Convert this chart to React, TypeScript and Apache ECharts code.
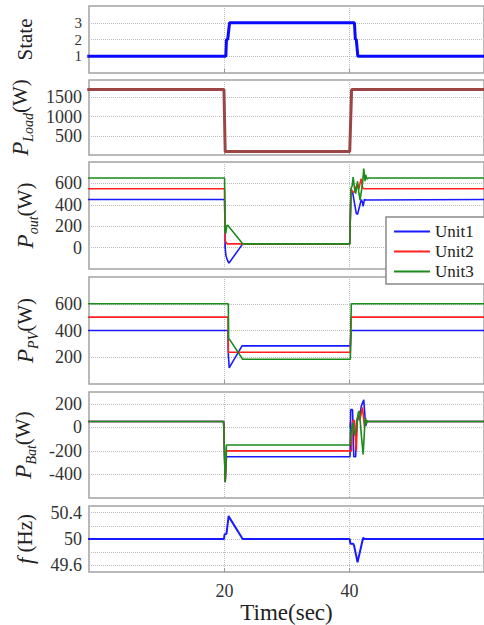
import React, { useEffect, useRef } from "react";
import * as echarts from "echarts";

// ---- data ----
const xMin = -1.72;
const xMax = 61.56;
const xTicks = [20, 40];

const stateData = [[-2, 1], [20.2, 1], [20.3, 2], [20.5, 2], [20.8, 3], [40.8, 3], [40.95, 2], [41.1, 2], [41.35, 1], [62, 1]];
const loadData = [[-2, 1700], [19.9, 1700], [20.1, 90], [40.05, 90], [40.35, 1700], [62, 1700]];

const pout1 = [[-2, 450], [20.0, 450], [20.1, 0], [20.2, -70], [20.4, -110], [20.7, -145], [22.9, 35], [40.05, 35], [40.25, 540], [40.5, 520], [40.8, 420], [41.1, 320], [41.3, 310], [41.6, 380], [41.9, 450], [42.1, 420], [42.2, 385], [42.4, 450], [42.6, 445], [62, 450]];
const pout2 = [[-2, 550], [20.0, 550], [20.1, 60], [20.3, 45], [20.4, 35], [40.05, 35], [40.25, 550], [40.5, 520], [40.8, 520], [41.0, 560], [41.3, 592], [41.5, 545], [41.7, 600], [41.9, 645], [42.1, 560], [42.3, 550], [62, 550]];
const pout3 = [[-2, 650], [20.0, 650], [20.05, 140], [20.2, 135], [20.35, 205], [20.5, 210], [20.7, 195], [22.9, 35], [40.05, 35], [40.25, 550], [40.45, 580], [40.6, 660], [40.8, 560], [41.0, 505], [41.3, 620], [41.5, 520], [41.7, 444], [41.9, 520], [42.1, 600], [42.3, 738], [42.5, 620], [42.6, 680], [42.8, 640], [43.0, 650], [62, 650]];

const ppv1 = [[-2, 400], [20.55, 400], [20.6, 220], [20.75, 120], [20.85, 130], [22.8, 285], [40.15, 285], [40.25, 400], [62, 400]];
const ppv2 = [[-2, 500], [20.55, 500], [20.6, 237], [40.15, 237], [40.25, 500], [62, 500]];
const ppv3 = [[-2, 600], [20.6, 600], [20.65, 338], [20.85, 330], [22.9, 185], [40.15, 185], [40.3, 600], [62, 600]];

const pbat1 = [[-2, 50], [19.85, 50], [20.1, -465], [20.3, -250], [40.1, -250], [40.2, 150], [40.5, 150], [40.7, -250], [41.0, -250], [41.15, 40], [41.4, 100], [41.6, 60], [41.9, 180], [42.3, 234], [42.6, 10], [42.8, 50], [62, 50]];
const pbat2 = [[-2, 50], [19.85, 50], [20.1, -465], [20.3, -200], [40.35, -200], [40.45, 50], [40.8, 60], [41.1, -200], [41.2, -200], [41.3, 90], [41.7, 70], [42.1, 170], [42.4, 10], [42.6, 50], [62, 50]];
const pbat3 = [[-2, 50], [19.85, 50], [20.1, -465], [20.2, -465], [20.3, -150], [40.1, -150], [40.3, -20], [40.55, 40], [40.8, -70], [41.1, -10], [41.4, 120], [41.6, 140], [41.9, -60], [42.2, -230], [42.5, 60], [42.6, 80], [42.7, 30], [42.8, 60], [42.9, 45], [43.0, 50], [62, 50]];

const freqData = [[-2, 50], [19.9, 50], [20.0, 50.07], [20.3, 50.08], [20.65, 50.35], [20.8, 50.32], [22.9, 50], [40.05, 50], [40.15, 49.93], [40.6, 49.93], [40.75, 49.9], [41.3, 49.65], [42.2, 50.02], [42.4, 50], [62, 50]];

const unitNames = ["Unit1", "Unit2", "Unit3"];
const unitColors = ["#1a1aff", "#ff2020", "#1a8c1a"];

// y axis setup per panel
const yRanges = [
  { min: 0, max: 4, ticks: [1, 2, 3], labels: [1, 3] },
  { min: 0, max: 1950, ticks: [500, 1000, 1500], labels: [500, 1000, 1500] },
  { min: -200, max: 800, ticks: [0, 200, 400, 600], labels: [0, 200, 400, 600] },
  { min: 0, max: 800, ticks: [200, 400, 600], labels: [200, 400, 600] },
  { min: -600, max: 300, ticks: [-400, -200, 0, 200], labels: [-400, -200, 0, 200] },
  { min: 49.5, max: 50.5, ticks: [49.6, 49.8, 50, 50.2, 50.4], labels: [49.6, 50, 50.4] },
];
const stateMidLabels = [2];
const yNames = [
  "{n|State}",
  "{i|P}{s|Load}{n|(W)}",
  "{i|P}{s|out}{n|(W)}",
  "{i|P}{s|PV}{n|(W)}",
  "{i|P}{s|Bat}{n|(W)}",
  "{i|f}{n| (Hz)}",
];
const gridBoxes = [
  [6, 67],
  [80, 75],
  [162, 107],
  [277, 107],
  [392, 106],
  [506, 86],
];

const SERIF = "Liberation Serif";

export default function App() {
  const ref = useRef<HTMLDivElement>(null);
  useEffect(() => {
    if (!ref.current) return;
    const chart = echarts.init(ref.current, null, { renderer: "svg" });
    const grids = gridBoxes.map(([top, height]) => ({
      left: 89,
      right: -10,
      top,
      height,
      show: true,
      borderColor: "#a3a3a3",
      borderWidth: 1.5,
      backgroundColor: "transparent",
    }));
    const xAxes = gridBoxes.map((_, i) => ({
      type: "value",
      gridIndex: i,
      min: xMin,
      max: xMax,
      axisLine: { show: false },
      axisTick: { show: true, inside: true, length: 4, customValues: xTicks, lineStyle: { color: "#999" } },
      axisLabel: {
        show: i === 5,
        customValues: xTicks,
        fontFamily: SERIF,
        fontSize: 18,
        color: "#333",
        margin: 10,
        showMinLabel: true,
        showMaxLabel: true,
        formatter: (v: number) => String(v),
      },
      splitLine: { show: true, lineStyle: { type: "dotted", color: "#bdbdbd", width: 1 } },
      name: i === 5 ? "Time(sec)" : "",
      nameLocation: "middle",
      nameGap: 13,
      nameTextStyle: { fontFamily: SERIF, fontSize: 23, color: "#222", verticalAlign: "top" },
    }));
    const labelStyle = {
      fontFamily: SERIF,
      fontSize: 18,
      lineHeight: 14,
      color: "#333",
      margin: 7,
      hideOverlap: false,
      showMinLabel: true,
      showMaxLabel: true,
      formatter: (v: number) => String(v),
    };
    const stateLabelStyle = { ...labelStyle, fontSize: 15, lineHeight: 13 };
    const yAxes: any[] = yRanges.map((r, i) => ({
      type: "value",
      gridIndex: i,
      min: r.min,
      max: r.max,
      axisLine: { show: false },
      axisTick: { show: false, customValues: r.ticks },
      axisLabel: { ...(i === 0 ? stateLabelStyle : labelStyle), customValues: r.labels },
      splitLine: { show: true, lineStyle: { type: "dotted", color: "#bdbdbd", width: 1 } },
      name: yNames[i],
      nameLocation: "middle",
      nameRotate: 90,
      nameGap: 49,
      nameTextStyle: {
        fontFamily: SERIF,
        color: "#222",
        rich: {
          n: { fontFamily: SERIF, fontSize: 21, color: "#222", lineHeight: 30 },
          i: { fontFamily: SERIF, fontSize: 23, fontStyle: "italic", color: "#222", lineHeight: 30 },
          s: { fontFamily: SERIF, fontSize: 14, fontStyle: "italic", color: "#222", lineHeight: 30, verticalAlign: "bottom" },
        },
      },
    }));
    // extra overlay axis for the middle State label (avoids automatic overlap hiding)
    yAxes.push({
      type: "value",
      gridIndex: 0,
      position: "left",
      min: yRanges[0].min,
      max: yRanges[0].max,
      axisLine: { show: false },
      axisTick: { show: false, customValues: stateMidLabels },
      axisLabel: { ...stateLabelStyle, customValues: stateMidLabels },
      splitLine: { show: false },
    });
    const mk = (name: string, data: number[][], idx: number, color: string, width: number) => ({
      type: "line",
      name,
      data,
      xAxisIndex: idx,
      yAxisIndex: idx,
      showSymbol: false,
      symbol: "none",
      lineStyle: { color, width },
      itemStyle: { color },
    });
    const series: any[] = [
      mk("State", stateData, 0, "#0a0aff", 3),
      mk("Load", loadData, 1, "#9b4545", 3),
    ];
    const groups = [
      [pout1, pout2, pout3],
      [ppv1, ppv2, ppv3],
      [pbat1, pbat2, pbat3],
    ];
    groups.forEach((g, gi) => {
      g.forEach((d, k) => series.push(mk(unitNames[k], d, gi + 2, unitColors[k], 1.6)));
    });
    series.push(mk("f", freqData, 5, "#1a1aff", 2));

    chart.setOption({
      animation: false,
      backgroundColor: "#fff",
      textStyle: { fontFamily: SERIF },
      grid: grids,
      xAxis: xAxes,
      yAxis: yAxes,
      legend: {
        data: unitNames,
        orient: "vertical",
        left: 386,
        top: 217,
        padding: [6, 22, 4, 8],
        itemGap: 3,
        itemWidth: 36,
        itemHeight: 2,
        icon: "rect",
        backgroundColor: "#fff",
        borderColor: "#8a8a8a",
        borderWidth: 1.5,
        textStyle: { fontFamily: SERIF, fontSize: 17, color: "#222" },
      },
      series,
    });
    return () => chart.dispose();
  }, []);
  return <div ref={ref} style={{ position: "fixed", left: 0, top: 0, width: 484, height: 625 }} />;
}
